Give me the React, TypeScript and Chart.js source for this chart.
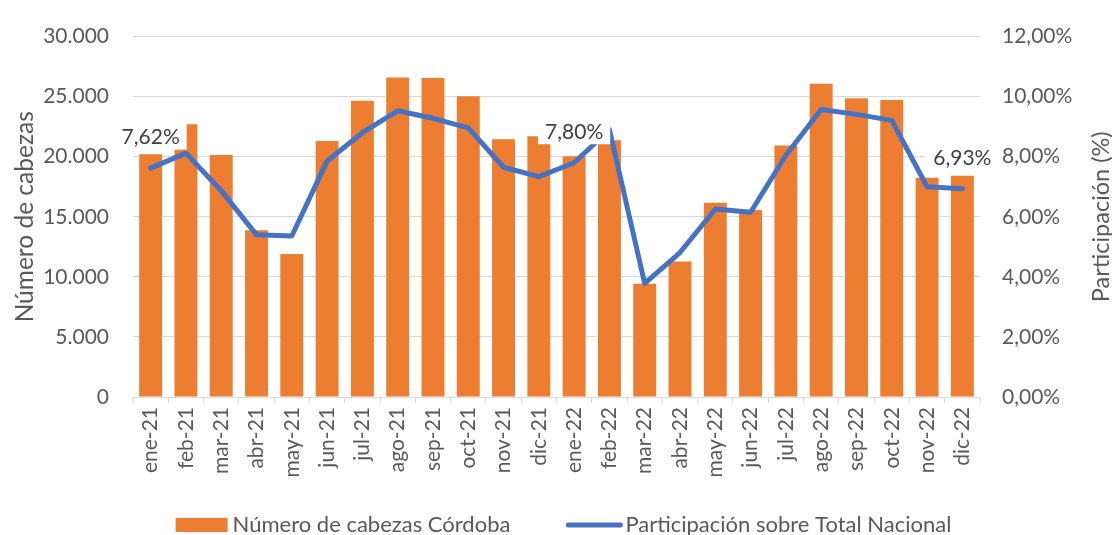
import React, { useEffect, useRef } from 'react';
import { Chart, registerables } from 'chart.js';

Chart.register(...registerables);

const categories = [
  'ene-21', 'feb-21', 'mar-21', 'abr-21', 'may-21', 'jun-21', 'jul-21', 'ago-21', 'sep-21', 'oct-21', 'nov-21', 'dic-21',
  'ene-22', 'feb-22', 'mar-22', 'abr-22', 'may-22', 'jun-22', 'jul-22', 'ago-22', 'sep-22', 'oct-22', 'nov-22', 'dic-22',
];

const cabezasCordoba = [
  20200, 22700, 20150, 13880, 11900, 21300, 24650, 26600, 26550, 25030, 21460, 21700,
  20050, 21380, 9430, 11280, 16160, 15570, 20930, 26070, 24870, 24730, 18250, 18410,
];

const participacion = [
  7.62, 8.12, 6.87, 5.4, 5.36, 7.86, 8.8, 9.53, 9.28, 8.96, 7.65, 7.34,
  7.8, 8.9, 3.78, 4.81, 6.26, 6.15, 8.05, 9.57, 9.41, 9.21, 7.0, 6.93,
];

const labeledPoints = [0, 12, 23];

const barLabel = 'Número de cabezas Córdoba';
const lineLabel = 'Participación sobre Total Nacional';
const leftTitle = 'Número de cabezas';
const rightTitle = 'Participación (%)';

const ORANGE = '#ED7D31';
const BLUE = '#4472C4';
const TEXT = '#595959';
const GRID = '#D9D9D9';
const FONT = 'Lato';

const fmtThousands = (v: number) => {
  const s = Math.round(v).toString();
  return s.replace(/\B(?=(\d{3})+(?!\d))/g, '.');
};
const fmtPct = (v: number) => v.toFixed(2).replace('.', ',') + '%';

const overlayPlugin = {
  id: 'overlay',
  afterDatasetsDraw(chart: any) {
    const ctx = chart.ctx as CanvasRenderingContext2D;
    const meta = chart.getDatasetMeta(1);
    ctx.save();
    ctx.font = `21px ${FONT}`;
    ctx.textAlign = 'center';
    ctx.textBaseline = 'middle';
    labeledPoints.forEach((i) => {
      const pt = meta.data[i];
      const text = fmtPct(participacion[i]);
      const w = ctx.measureText(text).width;
      const cx = pt.x;
      const cy = pt.y - 32;
      ctx.fillStyle = '#FFFFFF';
      ctx.fillRect(cx - w / 2 - 7, cy - 13.5, w + 14, 27);
      ctx.fillStyle = '#404040';
      ctx.fillText(text, cx, cy + 1);
    });
    ctx.restore();
  },
  afterDraw(chart: any) {
    const ctx = chart.ctx as CanvasRenderingContext2D;
    const area = chart.chartArea;
    ctx.save();
    // right axis title (reads bottom to top)
    ctx.font = `23.5px ${FONT}`;
    ctx.fillStyle = TEXT;
    ctx.textAlign = 'center';
    ctx.textBaseline = 'middle';
    ctx.translate(1101, (area.top + area.bottom) / 2);
    ctx.rotate(-Math.PI / 2);
    ctx.fillText(rightTitle, 0, 0);
    ctx.restore();

    // legend
    ctx.save();
    ctx.font = `22px ${FONT}`;
    ctx.textBaseline = 'middle';
    ctx.textAlign = 'left';
    const w1 = ctx.measureText(barLabel).width;
    const w2 = ctx.measureText(lineLabel).width;
    const boxW = 52;
    const lineW = 56;
    const total = boxW + 5 + w1 + 56 + lineW + 3 + w2;
    let x = 563.5 - total / 2;
    const y = 525;
    ctx.fillStyle = ORANGE;
    ctx.fillRect(x, y - 7, boxW, 14);
    x += boxW + 5;
    ctx.fillStyle = TEXT;
    ctx.fillText(barLabel, x, y);
    x += w1 + 56;
    ctx.strokeStyle = BLUE;
    ctx.lineWidth = 5;
    ctx.lineCap = 'round';
    ctx.beginPath();
    ctx.moveTo(x + 2, y);
    ctx.lineTo(x + lineW - 2, y);
    ctx.stroke();
    x += lineW + 3;
    ctx.fillText(lineLabel, x, y);
    ctx.restore();
  },
};

export default function App() {
  const canvasRef = useRef<HTMLCanvasElement | null>(null);

  useEffect(() => {
    if (!canvasRef.current) return;
    const chart = new Chart(canvasRef.current, {
      type: 'bar',
      data: {
        labels: categories,
        datasets: [
          {
            type: 'bar',
            label: barLabel,
            data: cabezasCordoba,
            backgroundColor: ORANGE,
            borderWidth: 0,
            categoryPercentage: 1,
            barPercentage: 0.65,
            yAxisID: 'y',
            order: 1,
          },
          {
            type: 'line',
            label: lineLabel,
            data: participacion,
            borderColor: BLUE,
            backgroundColor: BLUE,
            borderWidth: 5,
            borderJoinStyle: 'round',
            borderCapStyle: 'round',
            pointRadius: 0,
            pointHoverRadius: 0,
            tension: 0,
            yAxisID: 'y1',
            order: 0,
          } as any,
        ],
      },
      options: {
        animation: false,
        responsive: false,
        devicePixelRatio: 1,
        events: [],
        layout: { padding: { top: 24, bottom: 0, left: 0, right: 0 } },
        plugins: {
          legend: { display: false },
          tooltip: { enabled: false },
        },
        scales: {
          x: {
            offset: true,
            grid: { drawOnChartArea: false, offset: true, tickLength: 6, color: GRID, lineWidth: 1 },
            border: { display: true, color: GRID, width: 1 },
            ticks: {
              autoSkip: false,
              minRotation: 90,
              maxRotation: 90,
              padding: 4,
              color: TEXT,
              font: { family: FONT, size: 21 },
            },
            afterFit: (scale: any) => {
              scale.height = 138;
            },
          },
          y: {
            position: 'left',
            min: 0,
            max: 30000,
            ticks: {
              stepSize: 5000,
              padding: 24,
              color: TEXT,
              font: { family: FONT, size: 21 },
              callback: (v: any) => fmtThousands(Number(v)),
            },
            grid: { color: GRID, lineWidth: 1, drawTicks: false },
            border: { display: false },
            title: {
              display: true,
              text: leftTitle,
              color: TEXT,
              font: { family: FONT, size: 24.5, weight: 'normal' },
              padding: { top: 10, bottom: 0 },
            },
            afterFit: (scale: any) => {
              scale.width = 133;
            },
          },
          y1: {
            position: 'right',
            min: 0,
            max: 12,
            ticks: {
              stepSize: 2,
              padding: 22,
              color: TEXT,
              font: { family: FONT, size: 21 },
              callback: (v: any) => fmtPct(Number(v)),
            },
            grid: { drawOnChartArea: false, drawTicks: false },
            border: { display: false },
            afterFit: (scale: any) => {
              scale.width = 132;
            },
          },
        },
      },
      plugins: [overlayPlugin],
    } as any);
    return () => chart.destroy();
  }, []);

  return (
    <div style={{ position: 'absolute', left: 0, top: 0, width: 1112, height: 535, background: '#FFFFFF' }}>
      <canvas ref={canvasRef} width={1112} height={535} style={{ display: 'block' }} />
    </div>
  );
}
